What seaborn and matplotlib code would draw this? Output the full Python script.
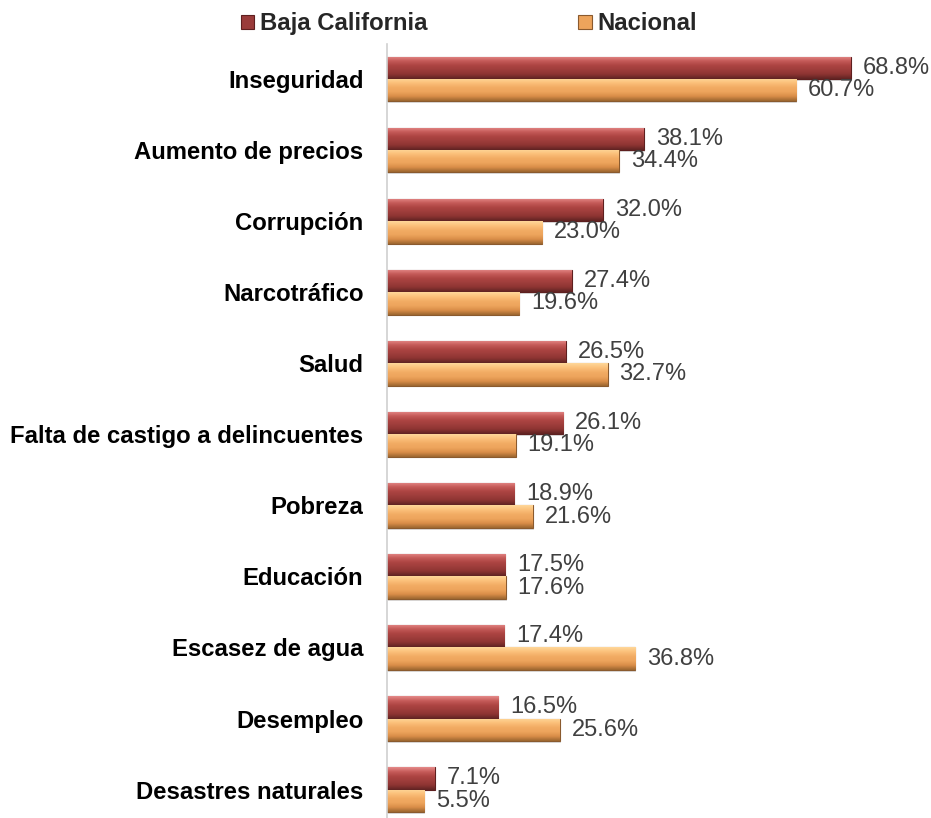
import numpy as np
import pandas as pd
import matplotlib
matplotlib.use("Agg")
import matplotlib.pyplot as plt
from matplotlib.colors import LinearSegmentedColormap
from matplotlib.patches import Rectangle
import seaborn as sns

categories = ["Inseguridad", "Aumento de precios", "Corrupción", "Narcotráfico", "Salud",
              "Falta de castigo a delincuentes", "Pobreza", "Educación", "Escasez de agua",
              "Desempleo", "Desastres naturales"]
baja_california = [68.8, 38.1, 32.0, 27.4, 26.5, 26.1, 18.9, 17.5, 17.4, 16.5, 7.1]
nacional = [60.7, 34.4, 23.0, 19.6, 32.7, 19.1, 21.6, 17.6, 36.8, 25.6, 5.5]
series_names = ["Baja California", "Nacional"]

df = pd.DataFrame({
    "tema": categories * 2,
    "porcentaje": baja_california + nacional,
    "serie": [series_names[0]] * len(categories) + [series_names[1]] * len(categories),
})

base_colors = {"Baja California": "#9a3b3a", "Nacional": "#eda45c"}
edge_colors = {"Baja California": "#5e1f1f", "Nacional": "#8a5a2e"}
# vertical bevel gradients, top -> bottom
gradients = {
    "Baja California": ["#e58a89", "#c65b59", "#ad4543", "#9e3d3b", "#8c3432", "#5f2322"],
    "Nacional": ["#ffd79a", "#fbc07a", "#f2ac64", "#eda45c", "#d98d48", "#9c6630"],
}

sns.set_theme(style="white")
plt.rcParams["font.family"] = ["Liberation Sans", "DejaVu Sans"]

fig = plt.figure(figsize=(9.31, 8.18), dpi=100)
ax = fig.add_axes([387 / 931, 0.0, (75 * 6.744) / 931, 1 - 43.5 / 818])

sns.barplot(data=df, y="tema", x="porcentaje", hue="serie", order=categories,
            hue_order=series_names, palette=base_colors, orient="h",
            width=0.63, gap=0, ax=ax, legend=False, saturation=1)

ax.set_xlim(0, 75)
ax.set_ylim(10.4, -0.5)

# bevel shading on each bar, clipped to the bar shape
for container, name in zip(ax.containers, series_names):
    cmap = LinearSegmentedColormap.from_list(name, gradients[name])
    grad = np.linspace(0, 1, 64).reshape(-1, 1)
    for patch in container.patches:
        x0, y0 = patch.get_x(), patch.get_y()
        w, h = patch.get_width(), patch.get_height()
        # soft shadow below the bar
        ax.add_patch(Rectangle((x0 + 0.15, y0 + h * 0.08), w, h, facecolor="#dcdcdc",
                               edgecolor="none", zorder=1.5))
        patch.set_zorder(2)
        patch.set_edgecolor(edge_colors[name])
        patch.set_linewidth(0.8)
        im = ax.imshow(grad, extent=(x0, x0 + w, y0 + h, y0), aspect="auto",
                       cmap=cmap, zorder=2.1, interpolation="bilinear")
        im.set_clip_path(patch)
    labels = [f"{v:.1f}%" for v in container.datavalues]
    ax.bar_label(container, labels=labels, padding=8.5, fontsize=17, color="#404040")

ax.set_xlim(0, 75)
ax.set_ylim(10.4, -0.5)
ax.set_xlabel("")
ax.set_ylabel("")
ax.set_xticks([])
ax.tick_params(axis="y", length=0, pad=17)
for lbl in ax.get_yticklabels():
    lbl.set_fontweight("bold")
    lbl.set_fontsize(17.2)
    lbl.set_color("black")
for side in ["top", "right", "bottom"]:
    ax.spines[side].set_visible(False)
ax.spines["left"].set_color("#d0d0d0")
ax.spines["left"].set_linewidth(1.2)

handles = [Rectangle((0, 0), 1, 1, facecolor=base_colors[n], edgecolor=edge_colors[n], linewidth=0.8)
           for n in series_names]
leg = fig.legend(handles, series_names, loc="center", bbox_to_anchor=(0.504, 0.971), ncol=2,
                 frameon=False, handlelength=0.55, handleheight=0.55, handletextpad=0.25,
                 columnspacing=6.3, prop={"weight": "bold", "size": 17.2})

fig.savefig("out.png", dpi=100)
